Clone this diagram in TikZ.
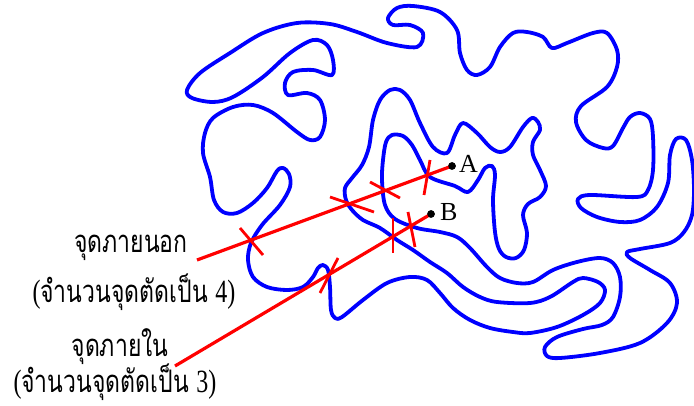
\documentclass[tikz,border=0pt]{standalone}
\usepackage{fontspec}
\setmainfont{Liberation Serif}
\newfontfamily\thaifont[Script=Thai]{Loma}
\newcommand{\paren}[1]{{\rmfamily\fontsize{24}{26}\selectfont #1}}
\newcommand{\tall}[1]{\scalebox{1}[1.35]{#1}}
\tikzset{
  curve/.style={draw=blue, line width=3.8pt, line join=round},
  ray/.style={draw=red, line width=3.2pt},
  tick/.style={draw=red, line width=2.8pt},
  lbl/.style={font=\fontsize{26}{28}\selectfont, inner sep=0pt},
  thai/.style={font=\thaifont\fontsize{23}{25}\selectfont, inner sep=0pt},
  pt/.style={circle, fill=black, inner sep=0pt, minimum size=7.5pt}
}
\begin{document}
\begin{tikzpicture}[x=1pt,y=-1pt]
\useasboundingbox (0,0) rectangle (694,406);
\begin{scope}
\clip (0,0) rectangle (694,406);
\draw[curve] plot[smooth cycle, tension=0.55] coordinates {
(203,153) (210,177) (214,200) (223,212) (237,213) (253,203) (267,188) (277,171) (283,168) (289,174) (290,187) (280,205) (262,225) (251,243) (248,260) (253,277) (267,287) (287,290) (303,287) (313,277) (318,268) (323,265) (328,270) (330,287) (331,310) (335,318) (342,317) (363,300) (387,283) (410,277) (427,280) (440,293) (453,308) (470,320) (490,328) (513,332) (530,333) (557,327) (583,315) (600,303) (605,290) (598,282) (583,278) (573,282) (550,297) (530,303) (497,302) (480,297) (463,287) (447,273) (430,262) (413,250) (397,240) (380,228) (363,220) (352,210) (346,200) (345,188) (352,178) (362,165) (369,147) (373,120) (380,100) (390,90) (400,90) (410,100) (420,123) (433,147) (447,153) (455,135) (463,123) (477,133) (490,147) (500,152) (510,147) (523,127) (532,118) (538,122) (540,130) (533,142) (533,155) (540,170) (546,186) (540,197) (528,204) (523,215) (527,233) (524,250) (516,258) (506,257) (499,249) (495,232) (493,200) (495,175) (492,166) (485,168) (478,180) (468,192) (455,186) (430,177) (420,160) (412,145) (403,136) (392,135) (386,142) (383,160) (382,180) (385,205) (395,219) (417,228) (440,232) (457,237) (470,248) (487,267) (500,278) (517,283) (533,282) (553,270) (577,262) (600,258) (613,263) (620,277) (620,297) (613,317) (602,325) (583,329) (557,337) (545,347) (547,356) (560,358) (600,353) (640,343) (667,323) (677,303) (670,283) (650,270) (630,258) (627,252) (640,249) (670,243) (684,232) (692,215) (694,190) (692,160) (686,140) (676,139) (670,155) (668,183) (657,207) (640,220) (620,222) (597,217) (581,208) (578,199) (590,195) (637,197) (648,190) (653,170) (653,137) (650,119) (640,113) (630,117) (623,128) (613,146) (603,148) (586,140) (576,122) (581,106) (607,87) (617,67) (617,50) (607,33) (593,33) (567,43) (552,48) (543,37) (527,32) (513,33) (500,47) (490,67) (477,75) (467,70) (460,53) (457,30) (440,12) (413,6) (397,8) (388,18) (393,25) (410,25) (423,33) (417,47) (387,43) (357,32) (330,24) (297,23) (263,33) (230,53) (200,73) (187,90) (192,98) (213,102) (233,97) (263,77) (290,53) (313,40) (327,45) (333,60) (332,75) (313,70) (293,72) (285,83) (288,95) (307,93) (320,100) (325,120) (320,137) (310,140) (297,132) (273,113) (253,105) (233,107) (213,118) (205,133)
};
\end{scope}
% points
\node[pt] (A) at (452,166) {};
\node[pt] (B) at (431,214) {};
\node[lbl, anchor=west] (Alab) at (459,164) {A};
\node[lbl, anchor=west] (Blab) at (440,212) {B};
% labels
\node[thai] (o1) at (131,248) {\tall{จุดภายนอก}};
\node[thai] (o2) at (134,292) {\tall{\paren{(}จำนวนจุดตัดเป็น \paren{4)}}};
\node[thai] (i1) at (120,347) {\tall{จุดภายใน}};
\node[thai] (i2) at (115,382) {\tall{\paren{(}จำนวนจุดตัดเป็น \paren{3)}}};
\coordinate (sA) at (197,260);
\coordinate (sB) at (175,366);
\draw[ray] (sA) -- (A.center);
\draw[ray] (sB) -- (B.center);
% ticks
\coordinate (t1a) at (240,228); \coordinate (t1b) at (263,255);
\coordinate (t2a) at (330,197); \coordinate (t2b) at (374,212);
\coordinate (t3a) at (370,182); \coordinate (t3b) at (400,198);
\coordinate (t4a) at (430,160); \coordinate (t4b) at (424,195);
\coordinate (t5a) at (338,258); \coordinate (t5b) at (320,293);
\coordinate (t6a) at (393,218); \coordinate (t6b) at (393,253);
\coordinate (t7a) at (408,212); \coordinate (t7b) at (415,247);
\foreach \i in {1,...,7} {\draw[tick] (t\i a) -- (t\i b);}
\node[pt] at (A) {};
\node[pt] at (B) {};
\end{tikzpicture}
\end{document}
